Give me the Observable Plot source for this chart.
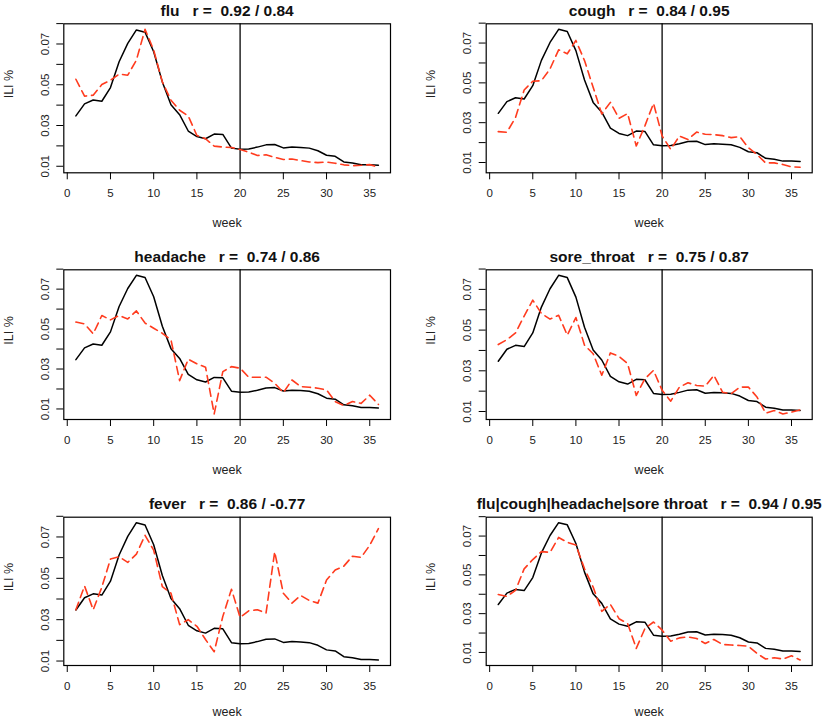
<!DOCTYPE html>
<html><head><meta charset="utf-8">
<script src="https://cdn.jsdelivr.net/npm/d3@7"></script>
<script src="https://cdn.jsdelivr.net/npm/@observablehq/plot@0.6"></script>
<style>
body{margin:0;background:#fff;}
#wrap{position:relative;width:831px;height:719px;overflow:hidden;background:#fff;}
#wrap svg{position:absolute;overflow:visible;}
#wrap svg text{white-space:pre;}
</style></head><body><div id="wrap"></div>
<script>
const weeks = [1,2,3,4,5,6,7,8,9,10,11,12,13,14,15,16,17,18,19,20,21,22,23,24,25,26,27,28,29,30,31,32,33,34,35,36];
const ili = [0.0347,0.0406,0.0425,0.0419,0.0486,0.0613,0.0703,0.0769,0.0758,0.0662,0.0514,0.0402,0.0353,0.0273,0.0246,0.0235,0.0258,0.0256,0.0189,0.0184,0.0185,0.0194,0.0205,0.0207,0.0190,0.0194,0.0192,0.0189,0.0176,0.0154,0.0149,0.0121,0.0116,0.0107,0.0107,0.0105];
const flu = [0.0527,0.0444,0.0449,0.0501,0.0522,0.0552,0.0547,0.0621,0.0772,0.0670,0.0514,0.0424,0.0375,0.0347,0.0251,0.0235,0.0199,0.0194,0.0192,0.0182,0.0169,0.0153,0.0156,0.0144,0.0133,0.0136,0.0128,0.0121,0.0118,0.0121,0.0115,0.0107,0.0103,0.0105,0.0108,0.0095];
const cough = [0.0255,0.0252,0.0326,0.0464,0.0508,0.0511,0.0570,0.0666,0.0646,0.0713,0.0612,0.0478,0.0344,0.0402,0.0322,0.0346,0.0183,0.0284,0.0397,0.0233,0.0166,0.0233,0.0216,0.0253,0.0242,0.0240,0.0235,0.0225,0.0230,0.0174,0.0140,0.0098,0.0098,0.0090,0.0078,0.0076];
const headache = [0.0535,0.0526,0.0476,0.0568,0.0546,0.0568,0.0551,0.0591,0.0530,0.0504,0.0479,0.0446,0.0242,0.0349,0.0326,0.0309,0.0075,0.0287,0.0312,0.0304,0.0259,0.0259,0.0259,0.0229,0.0182,0.0245,0.0212,0.0209,0.0204,0.0195,0.0137,0.0117,0.0137,0.0128,0.0169,0.0123];
const soreThroat = [0.0429,0.0453,0.0486,0.0569,0.0647,0.0582,0.0554,0.0573,0.0475,0.0562,0.0426,0.0384,0.0278,0.0388,0.0371,0.0335,0.0179,0.0261,0.0302,0.0204,0.0151,0.0220,0.0241,0.0228,0.0225,0.0278,0.0195,0.0187,0.0220,0.0220,0.0171,0.0092,0.0105,0.0088,0.0097,0.0108];
const fever = [0.0348,0.0463,0.0348,0.0457,0.0593,0.0604,0.0577,0.0617,0.0708,0.0636,0.0460,0.0428,0.0276,0.0300,0.0268,0.0204,0.0145,0.0316,0.0447,0.0311,0.0343,0.0348,0.0332,0.0628,0.0428,0.0380,0.0417,0.0393,0.0380,0.0492,0.0540,0.0559,0.0607,0.0601,0.0660,0.0740];
const combined = [0.0399,0.0389,0.0420,0.0531,0.0579,0.0620,0.0616,0.0693,0.0668,0.0654,0.0531,0.0437,0.0312,0.0348,0.0274,0.0249,0.0121,0.0223,0.0257,0.0215,0.0158,0.0175,0.0180,0.0172,0.0146,0.0167,0.0141,0.0138,0.0136,0.0132,0.0095,0.0066,0.0073,0.0066,0.0083,0.0061];
const titles = ["flu   r =  0.92 / 0.84","cough   r =  0.84 / 0.95","headache   r =  0.74 / 0.86","sore_throat   r =  0.75 / 0.87","fever   r =  0.86 / -0.77","flu|cough|headache|sore throat   r =  0.94 / 0.95"];
const xTicks = [0,5,10,15,20,25,30,35];
const yTicks = [0.01,0.02,0.03,0.04,0.05,0.06,0.07,0.08];
const yTickLabels = ["0.01","","0.03","","0.05","","0.07",""];
const splitWeek = 20;

const seriesList = [flu,cough,headache,soreThroat,fever,combined];
const colLeft = [0,415], colW = [415,416], colML = [63.3,70.7], colMR = [25,19.3];
const rowTop = [0,240,480], rowH = [240,240,239], rowMT = [23.3,29.3,36.7], rowMB = [67.7,61,54];
const rowWeekDy = [50,50,46];
const FONT = "'Liberation Sans', Arial, Helvetica, sans-serif";
const wrap = document.getElementById("wrap");

seriesList.forEach((s,i)=>{
  const c = i%2, r = Math.floor(i/2);
  const ref = weeks.map((w,k)=>({w, v: ili[k]}));
  const srch = weeks.map((w,k)=>({w, v: s[k]}));
  const all = ili.concat(s);
  const lo = d3.min(all), hi = d3.max(all), pad = (hi-lo)*0.04;
  const xlo = d3.min(weeks), xhi = d3.max(weeks), xpad = (xhi-xlo)*0.04;
  const chart = Plot.plot({
    width: colW[c], height: rowH[r],
    marginLeft: colML[c], marginRight: colMR[c], marginTop: rowMT[r], marginBottom: rowMB[r],
    style: {fontFamily: FONT, fontSize: "11.5px", color: "#000", background: "transparent", overflow: "visible"},
    x: {domain: [xlo - xpad, xhi + xpad]},
    y: {domain: [lo - pad, hi + pad]},
    marks: [
      Plot.axisX({ticks: xTicks, tickSize: 7, tickPadding: 9, label: null, stroke: "#000", fill: "#222"}),
      Plot.axisY({ticks: yTicks, tickSize: 7, tickPadding: 8, tickRotate: -90, label: null, stroke: "#000", fill: "#222",
                  tickFormat: d => yTickLabels[yTicks.findIndex(t => Math.abs(t-d) < 1e-9)] ?? ""}),
      Plot.ruleX([splitWeek], {stroke: "#333", strokeWidth: 1.6}),
      Plot.line(ref, {x: "w", y: "v", stroke: "#000", strokeWidth: 1.5}),
      Plot.line(srch, {x: "w", y: "v", stroke: "#ff3b1e", strokeWidth: 1.6, strokeDasharray: "8,5"}),
      Plot.frame({stroke: "#000", strokeWidth: 1.2}),
      Plot.text([titles[i]], {text: d => d, frameAnchor: "top", lineAnchor: "middle", dy: -13, fontWeight: "bold", fontSize: 15.5, fill: "#111"}),
      Plot.text(["week"], {text: d => d, frameAnchor: "bottom", lineAnchor: "middle", dy: rowWeekDy[r], fontSize: 12.5, fill: "#222"}),
      Plot.text(["ILI %"], {text: d => d, frameAnchor: "left", lineAnchor: "middle", dx: -55, rotate: -90, fontSize: 12.5, fill: "#222"})
    ]
  });
  chart.style.left = colLeft[c] + "px";
  chart.style.top = rowTop[r] + "px";
  wrap.appendChild(chart);
});
</script>
</body></html>
